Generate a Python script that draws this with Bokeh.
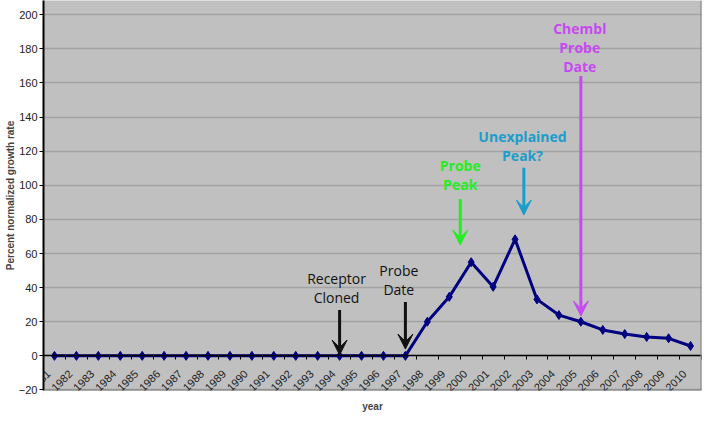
import math
from bokeh.plotting import figure
from bokeh.models import (Range1d, FixedTicker, ColumnDataSource, Arrow, VeeHead,
                          Span, Title, LabelSet)
from bokeh.core.properties import value
from bokeh.embed import file_html
from bokeh.resources import INLINE

# ---- data ----
years = [1981, 1982, 1983, 1984, 1985, 1986, 1987, 1988, 1989, 1990,
         1991, 1992, 1993, 1994, 1995, 1996, 1997, 1998, 1999, 2000,
         2001, 2002, 2003, 2004, 2005, 2006, 2007, 2008, 2009, 2010]
year_labels = [str(y) for y in years]
growth = [0, 0, 0, 0, 0, 0, 0, 0, 0, 0,
          0, 0, 0, 0, 0, 0, 0, 20.0, 34.6, 54.9,
          40.5, 68.3, 33.1, 23.9, 20.0, 15.2, 12.8, 11.1, 10.3, 5.8]
y_ticks = [-20, 0, 20, 40, 60, 80, 100, 120, 140, 160, 180, 200]
x_axis_crossing = 0

ann_text = ["Receptor\nCloned", "Probe\nDate", "Probe\nPeak",
            "Unexplained\nPeak?", "Chembl\nProbe\nDate"]
ann_x = [1993.86, 1996.7, 1999.5, 2002.34, 2004.95]
ann_y = [39.8, 44.5, 105.8, 123.1, 180.8]
ann_color = ["#111111", "#111111", "#22ee22", "#1b9dcb", "#c848f2"]
ann_style = ["normal", "normal", "bold", "bold", "bold"]
arrow_x = [1994, 1997, 1999.5, 2002.4, 2005]
arrow_y_start = [26.9, 31.6, 92.0, 110.2, 164.1]
arrow_y_end = [0.5, 4.0, 65.0, 82.6, 23.4]

# ---- figure ----
p = figure(frame_width=658, frame_height=390,
           x_range=Range1d(1980.5, 2010.5), y_range=Range1d(-20.3, 208.3),
           output_backend="svg", toolbar_location=None,
           background_fill_color="#c0c0c0", border_fill_color="white",
           outline_line_color=None,
           min_border_left=43, min_border_right=8, min_border_top=0,
           min_border_bottom=41)

# y axis
p.yaxis.ticker = FixedTicker(ticks=y_ticks)
p.yaxis.axis_label = "Percent normalized growth rate"
p.yaxis.axis_label_text_font = "Liberation Sans"
p.yaxis.axis_label_text_font_size = "10px"
p.yaxis.axis_label_text_font_style = "bold"
p.yaxis.axis_label_standoff = 0
p.yaxis.major_label_text_font = "Liberation Sans"
p.yaxis.major_label_text_font_size = "11px"
p.yaxis.major_label_text_color = "#222222"
p.yaxis.major_label_standoff = 2
p.yaxis.major_tick_out = 4
p.yaxis.major_tick_in = 0
p.yaxis.minor_tick_line_color = None
p.yaxis.axis_line_color = "black"
p.yaxis.axis_line_width = 2

# x axis crossing at 0 (line + boundary ticks); labels drawn as a LabelSet
p.xaxis.ticker = FixedTicker(ticks=years,
                             minor_ticks=[y - 0.5 for y in years] + [years[-1] + 0.5])
p.xaxis.fixed_location = x_axis_crossing
p.xaxis.major_label_text_font_size = "0px"
p.xaxis.major_label_text_color = None
p.xaxis.major_tick_out = 0
p.xaxis.major_tick_in = 0
p.xaxis.minor_tick_out = 4
p.xaxis.minor_tick_in = 0
p.xaxis.minor_tick_line_color = "black"
p.xaxis.axis_line_color = "black"
p.xaxis.axis_line_width = 1.5

p.xgrid.visible = False
p.ygrid.ticker = FixedTicker(ticks=y_ticks)
p.ygrid.grid_line_color = "#a2a2a2"
p.ygrid.grid_line_width = 1.5

# plot-area border (right & bottom)
p.add_layout(Span(location=2010.5, dimension="height", line_color="#808080", line_width=2))
p.add_layout(Span(location=-20.3, dimension="width", line_color="#808080", line_width=2))

# series
p.line(years, growth, line_color="#000080", line_width=3)
p.scatter(years, growth, marker="diamond", size=9, color="#000080")

# rotated year labels
lab_src = ColumnDataSource(dict(x=years, y=[x_axis_crossing] * len(years), text=year_labels))
p.add_layout(LabelSet(x="x", y="y", text="text", source=lab_src,
                      angle=math.pi / 4, text_align="right", text_baseline="middle",
                      x_offset=-6, y_offset=-16,
                      text_font=value("Liberation Sans"), text_font_size=value("11px"),
                      text_color="#222222"))

# annotations
src = ColumnDataSource(dict(x=ann_x, y=ann_y, text=ann_text,
                            color=ann_color, style=ann_style))
p.text(x="x", y="y", text="text", source=src, text_color="color",
       text_font_style="style", text_font=value("Open Sans"),
       text_font_size=value("14px"), text_align="center",
       text_baseline="middle", text_line_height=1.0)

for i in range(len(arrow_x)):
    p.add_layout(Arrow(x_start=arrow_x[i], y_start=arrow_y_start[i],
                       x_end=arrow_x[i], y_end=arrow_y_end[i],
                       line_color=ann_color[i], line_width=3,
                       end=VeeHead(size=15, fill_color=ann_color[i],
                                   line_color=ann_color[i], line_width=1)))

p.add_layout(Title(text="year", align="center", text_font="Liberation Sans",
                   text_font_size="10px", text_font_style="bold",
                   standoff=17), "below")

open("out.html", "w").write(file_html(p, INLINE))
